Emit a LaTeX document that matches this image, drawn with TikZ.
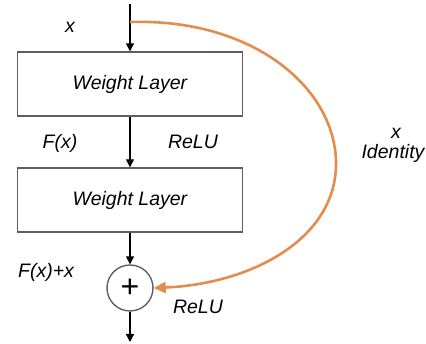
\documentclass[tikz,border=0pt]{standalone}
\usepackage{fontspec}
\setmainfont{Liberation Sans}
\usetikzlibrary{arrows.meta}
\definecolor{idorange}{RGB}{226,140,78}
\definecolor{boxgray}{RGB}{95,95,95}
\begin{document}
\begin{tikzpicture}[x=1pt,y=-1pt,
  lbl/.style={font=\fontsize{19.5}{23}\selectfont\itshape, inner sep=0pt},
  wbox/.style={draw=boxgray, line width=1.4pt, minimum width=225pt, minimum height=64pt, inner sep=0pt, font=\fontsize{19.5}{23}\selectfont\itshape},
  flow/.style={line width=1.4pt, -{Triangle[length=8pt,width=8pt]}},
  sumnode/.style={circle, draw=boxgray, line width=1.4pt, minimum size=46pt, inner sep=0pt, font=\fontsize{32}{32}\selectfont},
  idarrow/.style={draw=idorange, line width=2.6pt, -{Triangle[length=12pt,width=11pt]}}]
\useasboundingbox (0,0) rectangle (426,344);
\coordinate (in) at (130,4);
\coordinate (split) at (130,22);
\node[wbox] (w1) at (130,84) {Weight Layer};
\node[wbox] (w2) at (130,200) {Weight Layer};
\node[sumnode] (sum) at (130,288) {+};
\coordinate (out) at (130,342);
\draw[flow] (in) -- (w1.north);
\draw[flow] (w1.south) -- (w2.north);
\draw[flow] (w2.south) -- (sum.north);
\draw[flow] (sum.south) -- (out);
\draw[idarrow] (split) .. controls (255,18) and (337,90) .. (336,165)
  .. controls (335,240) and (250,284) .. (sum.east);
\node[lbl] (lx) at (70,27) {x};
\node[lbl] (lfx) at (60,143) {F(x)};
\node[lbl] (lrelu1) at (193,142) {ReLU};
\node[lbl] (lx2) at (396,133) {x};
\node[lbl] (lid) at (393,153) {Identity};
\node[lbl] (lfxx) at (46,272) {F(x)+x};
\node[lbl] (lrelu2) at (198,307) {ReLU};
\end{tikzpicture}
\end{document}
